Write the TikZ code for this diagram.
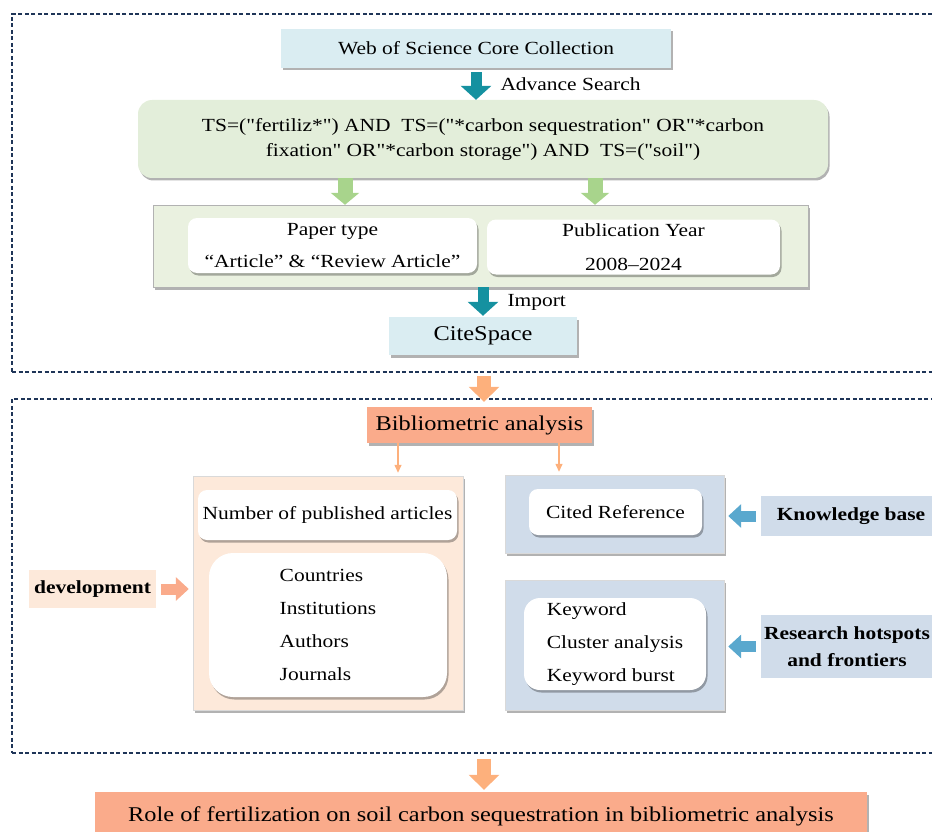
\documentclass[tikz,border=0pt]{standalone}
\usepackage{fontspec}
\setmainfont{Liberation Serif}[FakeStretch=1.16, Ligatures=TeXOff]
\usetikzlibrary{arrows.meta,shadows,positioning}
\definecolor{navy}{HTML}{1F3558}
\definecolor{skyfill}{HTML}{DAEDF2}
\definecolor{tealc}{HTML}{1591A0}
\definecolor{sagefill}{HTML}{E3EEDA}
\definecolor{panelfill}{HTML}{EAF1E0}
\definecolor{leafc}{HTML}{A8D48C}
\definecolor{salmonfill}{HTML}{FAAB8B}
\definecolor{apricot}{HTML}{FDB07C}
\definecolor{peachfill}{HTML}{FDE9DA}
\definecolor{slatefill}{HTML}{D0DCEA}
\definecolor{bluec}{HTML}{5AA8CE}
\begin{document}
\begin{tikzpicture}[x=1pt, y=-1pt,
    every node/.style={inner sep=0pt, font=\fontsize{18.5}{22}\selectfont},
    spaced/.style={font=\fontsize{18.5}{#1}\selectfont},
    frame/.style={draw=navy, line width=1.3pt, dash pattern=on 4pt off 2.5pt},
    soft/.style={drop shadow={shadow xshift=1.5pt, shadow yshift=-2.5pt, opacity=0.3, fill=black}},
    skybox/.style={soft, fill=skyfill},
    whitebox/.style={soft, fill=white, rounded corners=9pt},
    salmonbox/.style={soft, fill=salmonfill, font=\fontsize{21}{24}\selectfont},
    tag/.style={fill=#1, font=\bfseries\fontsize{18.5}{27}\selectfont},
    tealarr/.style={draw=tealc, line width=11pt, -{Triangle[length=14pt, width=30pt]}},
    greenarr/.style={draw=leafc, line width=15pt, -{Triangle[length=12pt, width=28pt]}},
    orangearr/.style={draw=apricot, line width=14pt, -{Triangle[length=15pt, width=30pt]}},
    sidearr/.style={draw=#1, line width=11pt, -{Triangle[length=13pt, width=23pt]}},
    thinarr/.style={draw=apricot, line width=1.3pt, -{Triangle[length=8pt, width=7pt]}}]
  \useasboundingbox (0,0) rectangle (932,832);

  \node[frame, minimum width=944, minimum height=358] (upper) at (484,193) {};
  \node[frame, minimum width=944, minimum height=354] (lower) at (484,576) {};

  \node[skybox, minimum width=390, minimum height=39] (wos) at (476,48.5) {Web of Science Core Collection};
  \node[soft, fill=sagefill, rounded corners=14pt, minimum width=690, minimum height=78, align=center, spaced=25] (query) at (483,139)
    {TS=("fertiliz*") AND\ \ TS=("*carbon sequestration" OR"*carbon\\fixation" OR"*carbon storage") AND\ \ TS=("soil")};
  \node[soft, fill=panelfill, draw=black!30, minimum width=655, minimum height=82] (panel) at (480.5,246) {};
  \node[whitebox, minimum width=289, minimum height=55, align=center, spaced=32] (paper) at (332.5,245.5) {Paper type\\“Article” \& “Review Article”};
  \node[whitebox, minimum width=293, minimum height=55, align=center, spaced=34] (year) at (633.5,247) {Publication Year\\2008–2024};
  \node[skybox, minimum width=188, minimum height=38, font=\fontsize{21}{24}\selectfont] (cite) at (483,336) {CiteSpace};

  \node[salmonbox, minimum width=225, minimum height=36] (biblio) at (479.5,425) {Bibliometric analysis};
  \node[soft, fill=peachfill, draw=black!15, minimum width=270, minimum height=234] (trend) at (328,593) {};
  \node[whitebox, minimum width=259, minimum height=50] (count) at (327.5,515) {Number of published articles};
  \node[whitebox, rounded corners=24pt, minimum width=238, minimum height=144, align=left, spaced=33] (actors) at (328,625)
    {Countries\\Institutions\\Authors\\Journals};
  \node[soft, fill=slatefill, draw=black!15, minimum width=219, minimum height=78] (basepanel) at (614.5,514) {};
  \node[whitebox, minimum width=173, minimum height=46] (cited) at (615.5,512) {Cited Reference};
  \node[soft, fill=slatefill, draw=black!15, minimum width=219, minimum height=130] (hotpanel) at (614.5,645) {};
  \node[whitebox, rounded corners=16pt, minimum width=182, minimum height=92, align=left, spaced=33] (keyword) at (615,644)
    {Keyword\\Cluster analysis\\Keyword burst};
  \node[tag=slatefill, minimum width=180, minimum height=40] (kb) at (851,516) {Knowledge base};
  \node[tag=slatefill, minimum width=172, minimum height=63, align=center] (hot) at (847,646.5) {Research hotspots\\and frontiers};
  \node[tag=peachfill, minimum width=127, minimum height=38] (dev) at (92.5,589) {development};
  \node[salmonbox, minimum width=772, minimum height=48] (final) at (481,816) {Role of fertilization on soil carbon sequestration in bibliometric analysis};

  \coordinate (ga) at (345,0);
  \coordinate (gb) at (595,0);
  \coordinate (oa) at (398,0);
  \coordinate (ob) at (559,0);

  \draw[tealarr, shorten <=4pt] (wos.south) -- (wos.south |- query.north) node[midway, right=19pt] {Advance Search};
  \draw[greenarr] (query.south -| ga) -- (panel.north -| ga);
  \draw[greenarr] (query.south -| gb) -- (panel.north -| gb);
  \draw[tealarr, shorten >=1pt] (cite.north |- panel.south) -- (cite.north) node[midway, right=19pt] {Import};
  \draw[orangearr, shorten <=3pt, shorten >=5pt] (upper.south) -- (upper.south |- biblio.north);
  \draw[thinarr, shorten >=3pt] (biblio.south -| oa) -- (trend.north -| oa);
  \draw[thinarr, shorten >=3pt] (biblio.south -| ob) -- (basepanel.north -| ob);
  \draw[sidearr=bluec, shorten <=5pt, shorten >=4pt] (kb.west) -- (kb.west -| basepanel.east);
  \draw[sidearr=bluec, shorten <=5pt, shorten >=4pt] (hot.west) -- (hot.west -| hotpanel.east);
  \draw[sidearr=salmonfill, shorten <=5pt, shorten >=4pt] (dev.east) -- (dev.east -| trend.west);
  \draw[orangearr, shorten <=5pt, shorten >=2pt] (lower.south) -- (lower.south |- final.north);
\end{tikzpicture}
\end{document}
